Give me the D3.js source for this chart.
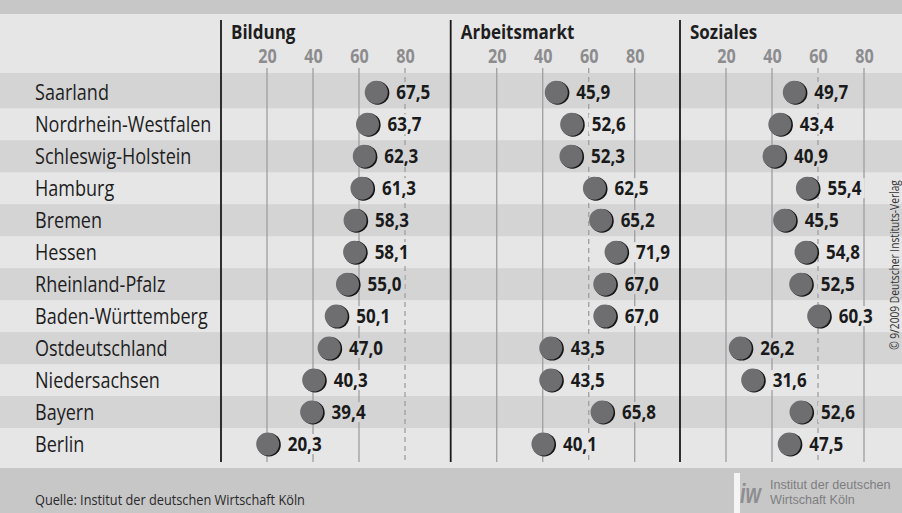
<!DOCTYPE html>
<html>
<head>
<meta charset="utf-8">
<script src="https://cdn.jsdelivr.net/npm/d3@7"></script>
<style>
  body { margin: 0; background: #fff; }
  svg { display: block; font-family: "Open Sans", sans-serif; }
</style>
</head>
<body>
<svg id="chart"></svg>
<script>
// Bundesländer-Ranking, Indexwerte
const states = ["Saarland", "Nordrhein-Westfalen", "Schleswig-Holstein", "Hamburg", "Bremen", "Hessen",
  "Rheinland-Pfalz", "Baden-Württemberg", "Ostdeutschland", "Niedersachsen", "Bayern", "Berlin"];
const panels = ["Bildung", "Arbeitsmarkt", "Soziales"];
const bildung = [67.5, 63.7, 62.3, 61.3, 58.3, 58.1, 55.0, 50.1, 47.0, 40.3, 39.4, 20.3];
const arbeitsmarkt = [45.9, 52.6, 52.3, 62.5, 65.2, 71.9, 67.0, 67.0, 43.5, 43.5, 65.8, 40.1];
const soziales = [49.7, 43.4, 40.9, 55.4, 45.5, 54.8, 52.5, 60.3, 26.2, 31.6, 52.6, 47.5];
const ticks = [20, 40, 60, 80];
const dashedTick = [80, 60, 60];
const source = "Quelle: Institut der deutschen Wirtschaft Köln";
const copyright = "© 9/2009 Deutscher Instituts-Verlag";
const logoLines = ["Institut der deutschen", "Wirtschaft Köln"];

const width = 902, height = 513;
const sx = 0.85; // condensed look
const lightBg = "#e6e6e7", darkBg = "#d4d4d5", stripBg = "#c7c7c8";

const svg = d3.select("#chart").attr("width", width).attr("height", height);
const de = d3.formatLocale({ decimal: ",", thousands: ".", grouping: [3], currency: ["", " €"] });
const fmt = de.format(".1f");

// background
svg.append("rect").attr("width", width).attr("height", height).attr("fill", stripBg);
svg.append("rect").attr("y", 14).attr("width", width).attr("height", 454).attr("fill", lightBg);

const y = d3.scaleBand().domain(states).range([76.3, 460]);
const panelX = [221, 450.7, 680];
const xs = panelX.map((x0) => d3.scaleLinear().domain([0, 100]).range([x0, x0 + 230]));
const values = [bildung, arbeitsmarkt, soziales];

// row stripes
svg.selectAll("rect.stripe")
  .data(states.filter((d, i) => i % 2 === 0))
  .join("rect")
  .attr("class", "stripe")
  .attr("x", 0)
  .attr("y", (d, i) => (i === 0 ? 73 : y(d)))
  .attr("width", width)
  .attr("height", (d, i) => (i === 0 ? y.bandwidth() + y(d) - 73 : y.bandwidth()))
  .attr("fill", darkBg);

const condensed = (sel, x, yy, s = sx) => sel.attr("transform", `translate(${x},${yy}) scale(${s},1)`);

// state labels
svg.selectAll("text.state")
  .data(states)
  .join("text")
  .attr("class", "state")
  .each(function (d) { condensed(d3.select(this), 35, y(d) + y.bandwidth() / 2 + 8, 0.82); })
  .attr("font-size", 22)
  .attr("fill", "#1e1e1e")
  .text((d) => d);

panels.forEach((name, p) => {
  const x = xs[p];
  const g = svg.append("g");

  // grid lines
  g.selectAll("line.grid")
    .data(ticks)
    .join("line")
    .attr("x1", (d) => x(d)).attr("x2", (d) => x(d))
    .attr("y1", 68).attr("y2", 462)
    .attr("stroke", "#a3a3a5")
    .attr("stroke-width", 1.4)
    .attr("stroke-dasharray", (d) => (d === dashedTick[p] ? "5,4" : null));

  // separator
  g.append("line")
    .attr("x1", panelX[p]).attr("x2", panelX[p])
    .attr("y1", 20).attr("y2", 462)
    .attr("stroke", "#1a1a1a").attr("stroke-width", 1.8);

  // header
  g.append("text")
    .call(condensed, panelX[p] + 10, 39)
    .attr("font-size", 20).attr("font-weight", 700)
    .attr("fill", "#1e1e1e")
    .text(name);

  // tick labels via axis
  const axis = d3.axisTop(x).tickValues(ticks).tickSize(0).tickPadding(0);
  const ag = g.append("g").attr("transform", "translate(0,63)").call(axis);
  ag.select(".domain").remove();
  ag.selectAll(".tick text")
    .attr("font-family", "'Open Sans', sans-serif")
    .attr("font-size", 19).attr("font-weight", 700)
    .attr("fill", "#8c8c8e")
    .attr("dy", 0)
    .attr("transform", `scale(${sx},1)`);

  // labels with knockout
  const rows = states.map((s, i) => ({ s, i, v: values[p][i] }));
  const lg = g.selectAll("g.lab").data(rows).join("g").attr("class", "lab");
  lg.each(function (d) {
    const cx = x(d.v), cy = y(d.s) + y.bandwidth() / 2;
    const sel = d3.select(this);
    const bg = sel.append("rect");
    const t = sel.append("text")
      .call(condensed, cx + 20, cy + 7)
      .attr("font-size", 20).attr("font-weight", 700)
      .attr("fill", "#1a1a1a")
      .text(fmt(d.v));
    const w = t.node().getBBox().width * sx;
    bg.attr("x", cx + 17).attr("y", cy - 10).attr("width", w + 6).attr("height", 20)
      .attr("fill", d.i % 2 === 0 ? darkBg : lightBg);
    sel.append("circle").attr("cx", cx + 1.3).attr("cy", cy + 0.7).attr("r", 11.8).attr("fill", "#151515");
    sel.append("circle").attr("cx", cx).attr("cy", cy).attr("r", 11.5).attr("fill", "#6e6e71");
  });
});

// source
svg.append("text")
  .call(condensed, 35, 505)
  .attr("font-size", 15)
  .attr("fill", "#2a2a2a")
  .text(source);

// copyright
svg.append("text")
  .attr("transform", `translate(898.5,265) rotate(-90) scale(${sx},1)`)
  .attr("text-anchor", "middle")
  .attr("font-size", 12)
  .attr("fill", "#333")
  .text(copyright);

// logo
const logo = svg.append("g");
logo.append("rect").attr("x", 734).attr("y", 473).attr("width", 6).attr("height", 40).attr("fill", "#f4f4f4");
logo.append("text")
  .attr("transform", "translate(740,503) scale(0.9,1.25)")
  .attr("font-family", "'Liberation Sans', Arial, sans-serif")
  .attr("font-size", 22).attr("font-weight", 700).attr("font-style", "italic")
  .attr("fill", "#8e8e90")
  .text("iw");
logo.selectAll("text.lt")
  .data(logoLines)
  .join("text")
  .attr("class", "lt")
  .attr("transform", (d, i) => `translate(770,${489 + i * 14.6}) scale(0.97,1)`)
  .attr("font-family", "'Liberation Sans', Arial, sans-serif")
  .attr("font-size", 13)
  .attr("fill", "#7e7e80")
  .text((d) => d);
</script>
</body>
</html>
